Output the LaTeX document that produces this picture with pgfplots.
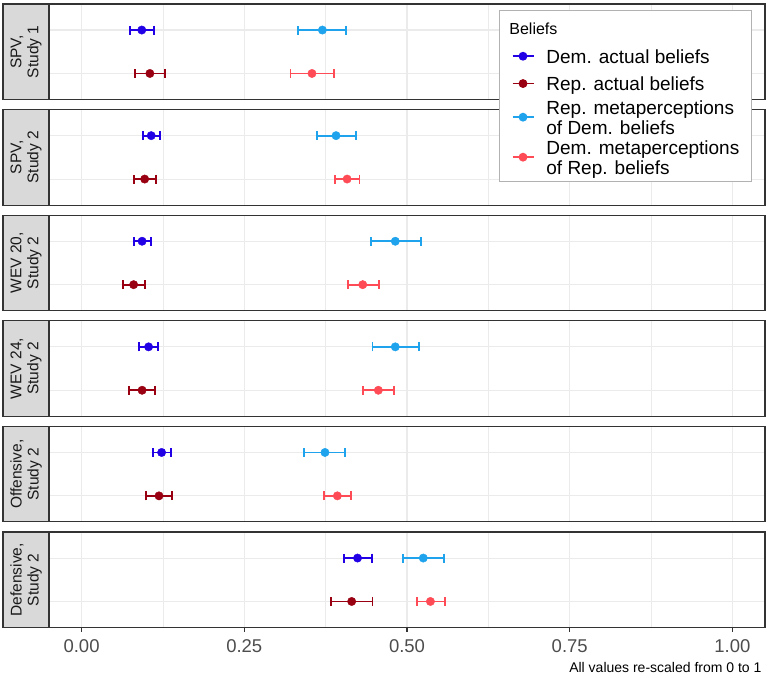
\documentclass[border=0pt]{standalone}
\usepackage{pgfplots}
\pgfplotsset{compat=1.18}
\usepackage{fontspec}
\setmainfont{Liberation Sans}

\definecolor{cDA}{HTML}{2200E6}
\definecolor{cRA}{HTML}{990011}
\definecolor{cRM}{HTML}{1FA3EC}
\definecolor{cDM}{HTML}{FF4B55}
\definecolor{gridc}{HTML}{EBEBEB}
\definecolor{borderc}{HTML}{333333}
\definecolor{stripc}{HTML}{D9D9D9}
\definecolor{tickc}{HTML}{4D4D4D}

\pgfplotsset{
  panel/.style={
    width=716pt, height=95.5pt, scale only axis,
    anchor=north west,
    xmin=-0.05, xmax=1.05, ymin=0.4, ymax=2.6, y dir=reverse,
    xtick={0,0.25,0.5,0.75,1}, minor xtick={0.125,0.375,0.625,0.875},
    ytick={1,2}, yticklabels={},
    xmajorgrids, xminorgrids, ymajorgrids,
    major grid style={draw=gridc, line width=1.1pt},
    minor grid style={draw=gridc, line width=0.55pt},
    axis line style={draw=borderc, line width=1.1pt},
    ytick style={draw=none},
    minor tick length=0pt,
    clip=false,
    /pgf/number format/assume math mode=true,
  },
  inner/.style={xticklabels={}, xtick style={draw=none}},
  ser/.style={
    color=#1, only marks, mark=*, mark size=4.2pt,
    mark options={draw=none, fill=#1},
    /pgfplots/legend image code/.code={
      \draw[draw=#1, line width=1.8pt] (0pt,0pt) -- (21pt,0pt);
      \fill[#1] (10.5pt,0pt) circle (3.8pt);},
    error bars/.cd, x dir=both, x explicit, error mark=|,
    error bar style={line width=1.9pt, draw=#1},
    error mark options={line width=1.9pt, mark size=4.5pt, draw=#1},
  },
}

\newcommand{\strip}[1]{%
  \draw[fill=stripc, draw=borderc, line width=1.1pt]
    ([xshift=-46pt]rel axis cs:0,0) rectangle (rel axis cs:0,1);
  \node[rotate=90, align=center, text=black!90,
        font=\fontsize{15.5}{17}\selectfont]
    at ([xshift=-23pt]rel axis cs:0,0.5) {#1};
}
\newcommand{\two}[2]{{\fontsize{19}{19.5}\selectfont\begin{tabular}{@{}l@{}}#1\\#2\end{tabular}}}

\begin{document}
\begin{tikzpicture}
\path[use as bounding box] (0pt,0pt) rectangle (770pt,-677pt);

% Panel 1
\begin{axis}[panel, inner, at={(49pt,-4pt)}]
\strip{SPV,\\Study 1}
\addplot[ser=cDA] coordinates {(0.0925,1) += (0.0185,0) -= (0.0185,0)};
\addplot[ser=cRA] coordinates {(0.105,2) += (0.023,0) -= (0.023,0)};
\addplot[ser=cRM] coordinates {(0.370,1) += (0.036,0) -= (0.037,0)};
\addplot[ser=cDM] coordinates {(0.354,2) += (0.034,0) -= (0.033,0)};
\end{axis}

% Panel 2
\begin{axis}[panel, inner, at={(49pt,-109.6pt)}]
\strip{SPV,\\Study 2}
\addplot[ser=cDA] coordinates {(0.107,1) += (0.013,0) -= (0.013,0)};
\addplot[ser=cRA] coordinates {(0.097,2) += (0.018,0) -= (0.017,0)};
\addplot[ser=cRM] coordinates {(0.391,1) += (0.030,0) -= (0.029,0)};
\addplot[ser=cDM] coordinates {(0.408,2) += (0.019,0) -= (0.019,0)};
\end{axis}

% Panel 3
\begin{axis}[panel, inner, at={(49pt,-215.2pt)}]
\strip{WEV 20,\\Study 2}
\addplot[ser=cDA] coordinates {(0.093,1) += (0.014,0) -= (0.013,0)};
\addplot[ser=cRA] coordinates {(0.080,2) += (0.017,0) -= (0.017,0)};
\addplot[ser=cRM] coordinates {(0.482,1) += (0.039,0) -= (0.037,0)};
\addplot[ser=cDM] coordinates {(0.432,2) += (0.025,0) -= (0.023,0)};
\end{axis}

% Panel 4
\begin{axis}[panel, inner, at={(49pt,-320.8pt)}]
\strip{WEV 24,\\Study 2}
\addplot[ser=cDA] coordinates {(0.103,1) += (0.015,0) -= (0.015,0)};
\addplot[ser=cRA] coordinates {(0.093,2) += (0.020,0) -= (0.020,0)};
\addplot[ser=cRM] coordinates {(0.482,1) += (0.037,0) -= (0.035,0)};
\addplot[ser=cDM] coordinates {(0.456,2) += (0.024,0) -= (0.024,0)};
\end{axis}

% Panel 5
\begin{axis}[panel, inner, at={(49pt,-426.4pt)}]
\strip{Offensive,\\Study 2}
\addplot[ser=cDA] coordinates {(0.123,1) += (0.015,0) -= (0.013,0)};
\addplot[ser=cRA] coordinates {(0.119,2) += (0.020,0) -= (0.0195,0)};
\addplot[ser=cRM] coordinates {(0.374,1) += (0.031,0) -= (0.032,0)};
\addplot[ser=cDM] coordinates {(0.393,2) += (0.021,0) -= (0.020,0)};
\end{axis}

% Panel 6
\begin{axis}[panel, at={(49pt,-532pt)},
  xtick pos=bottom, tick align=outside, major tick length=4pt,
  xtick style={draw=borderc, line width=1.1pt},
  xticklabel style={text=tickc, font=\fontsize{18.5}{20}\selectfont, yshift=-5pt},
  xticklabel={\pgfmathprintnumber[fixed, fixed zerofill, precision=2]{\tick}},
  legend cell align=left,
  legend style={at={(0.6285,6.466)}, anchor=north west,
    draw=black!30, line width=1.2pt, fill=white,
    font=\fontsize{19}{22.5}\selectfont,
    nodes={inner xsep=0pt, inner ysep=0pt},
    row sep=0pt, column sep=12pt, inner xsep=12pt, inner ysep=4pt},
]
\strip{Defensive,\\Study 2}
\addlegendimage{empty legend}
\addlegendentry[text height=19.7pt, text depth=8.3pt]{\fontsize{16}{18}\selectfont\hspace*{-37pt}Beliefs}
\addplot[ser=cDA] coordinates {(0.424,1) += (0.022,0) -= (0.021,0)};
\addlegendentry[text height=20.45pt, text depth=6.85pt]{Dem. actual beliefs}
\addplot[ser=cRA] coordinates {(0.415,2) += (0.032,0) -= (0.032,0)};
\addlegendentry[text height=20.45pt, text depth=6.85pt]{Rep. actual beliefs}
\addplot[ser=cRM] coordinates {(0.525,1) += (0.032,0) -= (0.031,0)};
\addlegendentry[text height=27.55pt, text depth=12.45pt]{\two{Rep. metaperceptions}{of Dem. beliefs}}
\addplot[ser=cDM] coordinates {(0.536,2) += (0.022,0) -= (0.021,0)};
\addlegendentry[text height=27.55pt, text depth=12.45pt]{\two{Dem. metaperceptions}{of Rep. beliefs}}
\end{axis}

\node[anchor=base east, font=\fontsize{14}{16}\selectfont] at (765pt,-672pt)
  {All values re-scaled from 0 to 1};
\end{tikzpicture}
\end{document}
